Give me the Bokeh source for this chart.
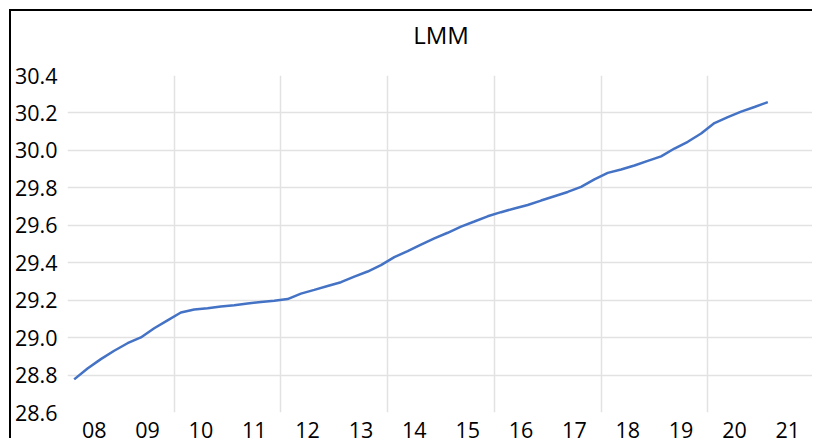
from bokeh.plotting import figure
from bokeh.models import FixedTicker, Range1d, Title
from bokeh.embed import file_html
from bokeh.resources import INLINE

title_text = "LMM"
years = list(range(2008, 2022))
year_labels = ["08", "09", "10", "11", "12", "13", "14", "15", "16", "17", "18", "19", "20", "21"]
quarters = [(y, q) for y in range(2008, 2021) for q in (1, 2, 3, 4)] + [(2021, 1)]
lmm = [
    28.777, 28.835, 28.885, 28.930,
    28.970, 29.001, 29.050, 29.092,
    29.134, 29.150, 29.157, 29.166,
    29.173, 29.182, 29.190, 29.197,
    29.206, 29.235, 29.255, 29.276,
    29.296, 29.326, 29.353, 29.387,
    29.430, 29.462, 29.497, 29.530,
    29.560, 29.593, 29.620, 29.648,
    29.670, 29.690, 29.708, 29.732,
    29.755, 29.778, 29.805, 29.845,
    29.880, 29.898, 29.919, 29.944,
    29.968, 30.010, 30.046, 30.090,
    30.146, 30.178, 30.207, 30.232,
    30.258,
]
y_ticks = [28.6, 28.8, 29.0, 29.2, 29.4, 29.6, 29.8, 30.0, 30.2, 30.4]
grid_years = [2010, 2012, 2014, 2016, 2018, 2020]

xs = [y + (q - 0.5) / 4 for (y, q) in quarters]

FONT = "Open Sans"
X0, X1 = 2008, 2022
Y0, Y1 = 28.6, 30.4

p = figure(width=803, height=429, output_backend="svg", toolbar_location=None,
           x_range=Range1d(X0, X1), y_range=Range1d(Y0, Y1),
           min_border_left=53, min_border_right=0, min_border_top=64, min_border_bottom=0,
           title=title_text)
p.styles = {"border-left": "2px solid black", "border-top": "2px solid black",
            "margin-left": "9px", "margin-top": "9px"}
p.outline_line_color = None
p.background_fill_color = "white"
p.border_fill_color = "white"

# empty spacer panel between the title and the plotting frame
p.add_layout(Title(text=" ", text_font_size="10px", standoff=10), "above")

p.title.align = "center"
p.title.vertical_align = "top"
p.title.standoff = 0
p.title.text_font = FONT
p.title.text_font_size = "24px"
p.title.text_font_style = "normal"
p.title.text_color = "black"

p.line(xs, lmm, line_color="#4472C4", line_width=2.5)

p.xaxis.ticker = FixedTicker(ticks=[y + 0.5 for y in years])
p.xaxis.major_label_overrides = {y + 0.5: lab for y, lab in zip(years, year_labels)}
p.yaxis.ticker = FixedTicker(ticks=y_ticks)
p.yaxis.major_label_overrides = {t: f"{t:.1f}" for t in y_ticks}
for ax in (p.xaxis[0], p.yaxis[0]):
    ax.axis_line_color = None
    ax.major_tick_line_color = None
    ax.minor_tick_line_color = None
    ax.major_tick_out = 0
    ax.major_tick_in = 0
    ax.major_label_text_font = FONT
    ax.major_label_text_font_size = "21.5px"
    ax.major_label_text_color = "black"
p.xaxis.major_label_standoff = 9
p.yaxis.major_label_standoff = 10

p.xgrid.ticker = FixedTicker(ticks=grid_years)
p.ygrid.ticker = FixedTicker(ticks=y_ticks[1:-1])
p.xgrid.grid_line_color = "#e2e2e2"
p.ygrid.grid_line_color = "#e2e2e2"
p.xgrid.grid_line_width = 1.5
p.ygrid.grid_line_width = 1.5

open("out.html", "w").write(file_html(p, INLINE))
